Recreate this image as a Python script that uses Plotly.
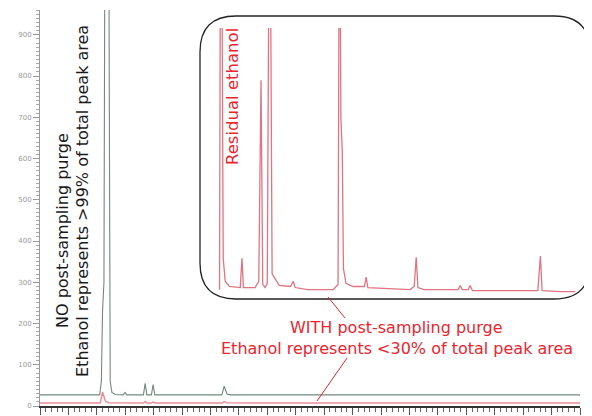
import plotly.graph_objects as go

# ---- data (retention time in min, detector signal) ----
no_purge_t = [0, 2.10, 2.16, 2.20, 2.25, 2.30, 2.40, 2.47, 2.53, 2.65, 2.93, 2.99, 3.05,
              3.64, 3.70, 3.76, 3.92, 3.98, 4.04, 6.40, 6.48, 6.58, 6.70, 19]
no_purge_y = [27, 27, 60, 230, 300, 1600, 1600, 60, 33, 28, 27, 33, 27,
              27, 55, 27, 27, 52, 27, 27, 48, 29, 27, 27]

purge_t = [0, 2.12, 2.20, 2.30, 2.40, 3.64, 3.70, 3.76, 3.92, 3.98, 4.04,
           6.40, 6.48, 6.58, 8.0, 19]
purge_y = [7, 7, 34, 12, 8, 7, 11, 7, 7, 10, 7,
           7, 10, 8, 7, 7]

inset_t = [2.20, 2.23, 2.28, 2.33, 2.40, 2.55, 2.93, 2.99, 3.04, 3.45, 3.58, 3.66, 3.72,
           3.80, 3.88, 3.94, 3.99, 4.05, 4.30, 4.70, 4.79, 4.86, 5.30, 6.20, 6.37, 6.41,
           6.44, 6.47, 6.52, 6.56, 6.65, 6.90, 7.30, 7.36, 7.42, 8.90, 9.05, 9.12, 9.18,
           9.40, 10.60, 10.67, 10.74, 10.95, 11.02, 11.10, 13.40, 13.49, 13.55, 14.20, 14.72]
inset_y = [7.0, 40, 40, 10, 7.8, 7.3, 7.2, 10.0, 7.2, 7.2, 7.8, 27.0, 7.5,
           7.2, 7.6, 40, 40, 8.5, 7.4, 7.3, 7.8, 7.2, 7.0, 7.0, 7.5, 40,
           40, 23.5, 20, 9, 7.6, 7.3, 7.3, 8.2, 7.2, 7.0, 7.3, 10.1, 7.2,
           7.0, 7.0, 7.4, 7.0, 7.0, 7.4, 6.9, 6.9, 10.2, 6.9, 6.8, 6.8]

y_ticks = [0, 100, 200, 300, 400, 500, 600, 700, 800, 900]

# page has an 8px body margin: figure is placed at (8, 8)
OFF = 8
W, H = 584, 408
PL, PR, PT, PB = 40, 580, 10, 406          # plot area in page pixels
L, R, T, B = PL - OFF, W - (PR - OFF), PT - OFF, H - (PB - OFF)
PW, PH = PR - PL, PB - PT


def px(x):
    return (x - PL) / PW


def py(y):
    return (PB - y) / PH


fig = go.Figure()
fig.add_trace(go.Scatter(x=no_purge_t, y=no_purge_y, mode="lines",
                         line=dict(color="#72897d", width=1.1), hoverinfo="skip"))
fig.add_trace(go.Scatter(x=purge_t, y=purge_y, mode="lines",
                         line=dict(color="#e88f99", width=1.5), hoverinfo="skip"))
fig.add_trace(go.Scatter(x=inset_t, y=inset_y, mode="lines", xaxis="x2", yaxis="y2",
                         line=dict(color="#e07480", width=1.3), hoverinfo="skip"))

x_scale = PW / 19.0
ix0, ix1 = 218, 578
inset_xrange = [(ix0 - (PL + 117)) / x_scale, (ix1 - (PL + 117)) / x_scale]

fig.update_layout(
    width=W, height=H,
    margin=dict(l=L, r=R, t=T, b=B, pad=0, autoexpand=False),
    paper_bgcolor="white", plot_bgcolor="white",
    showlegend=False,
    font=dict(family="DejaVu Sans"),
    xaxis=dict(range=[0, 19], showgrid=False, zeroline=False, automargin=False,
               showline=True, linecolor="#333", linewidth=1.5,
               ticks="outside", ticklen=7, tickcolor="#555", tickwidth=1,
               dtick=1, tick0=0, showticklabels=False,
               minor=dict(dtick=0.2, ticks="outside", ticklen=4, tickcolor="#666")),
    yaxis=dict(range=[0, 960], showgrid=False, zeroline=False, automargin=False,
               showline=True, linecolor="#999", linewidth=1,
               ticks="outside", ticklen=6, tickcolor="#999",
               tickvals=y_ticks, ticktext=[str(v) for v in y_ticks],
               tickfont=dict(size=7, color="#999"),
               minor=dict(dtick=10, ticks="outside", ticklen=3, tickcolor="#aaa")),
    xaxis2=dict(domain=[px(ix0), px(ix1)], range=inset_xrange, visible=False,
                anchor="y2", automargin=False),
    yaxis2=dict(domain=[py(298), py(28)], range=[6.2, 32], visible=False,
                anchor="x2", automargin=False),
)

# rounded inset frame
x0, x1 = px(200), px(590)
y0, y1 = py(299), py(16)
rx, ry = 36 / PW, 36 / PH
path = (f"M {x0+rx},{y1} L {x1-rx},{y1} Q {x1},{y1} {x1},{y1-ry} "
        f"L {x1},{y0+ry} Q {x1},{y0} {x1-rx},{y0} L {x0+rx},{y0} "
        f"Q {x0},{y0} {x0},{y0+ry} L {x0},{y1-ry} Q {x0},{y1} {x0+rx},{y1} Z")
fig.add_shape(type="path", path=path, xref="paper", yref="paper",
              line=dict(color="#222", width=1.3))

# leader lines
fig.add_shape(type="line", xref="paper", yref="paper",
              x0=px(328), y0=py(297), x1=px(345), y1=py(318),
              line=dict(color="#e8242f", width=1))
fig.add_shape(type="line", xref="paper", yref="paper",
              x0=px(347), y0=py(358), x1=px(317), y1=py(401),
              line=dict(color="#e8242f", width=1))

black = "#1a1a1a"
red = "#ec2530"
FS = 16
fig.add_annotation(text="NO post-sampling purge", xref="paper", yref="paper",
                   x=px(62), y=py(231), textangle=-90, showarrow=False,
                   font=dict(size=FS, color=black), xanchor="center", yanchor="middle")
fig.add_annotation(text="Ethanol represents >99% of total peak area", xref="paper", yref="paper",
                   x=px(82), y=py(201), textangle=-90, showarrow=False,
                   font=dict(size=FS, color=black), xanchor="center", yanchor="middle")
fig.add_annotation(text="Residual ethanol", xref="paper", yref="paper",
                   x=px(232), y=py(97), textangle=-90, showarrow=False,
                   font=dict(size=16.5, color=red), xanchor="center", yanchor="middle")
fig.add_annotation(text="WITH post-sampling purge", xref="paper", yref="paper",
                   x=px(396), y=py(327), showarrow=False,
                   font=dict(size=FS, color=red), xanchor="center", yanchor="middle")
fig.add_annotation(text="Ethanol represents <30% of total peak area", xref="paper", yref="paper",
                   x=px(397), y=py(348), showarrow=False,
                   font=dict(size=FS, color=red), xanchor="center", yanchor="middle")

fig.write_html("out.html")
